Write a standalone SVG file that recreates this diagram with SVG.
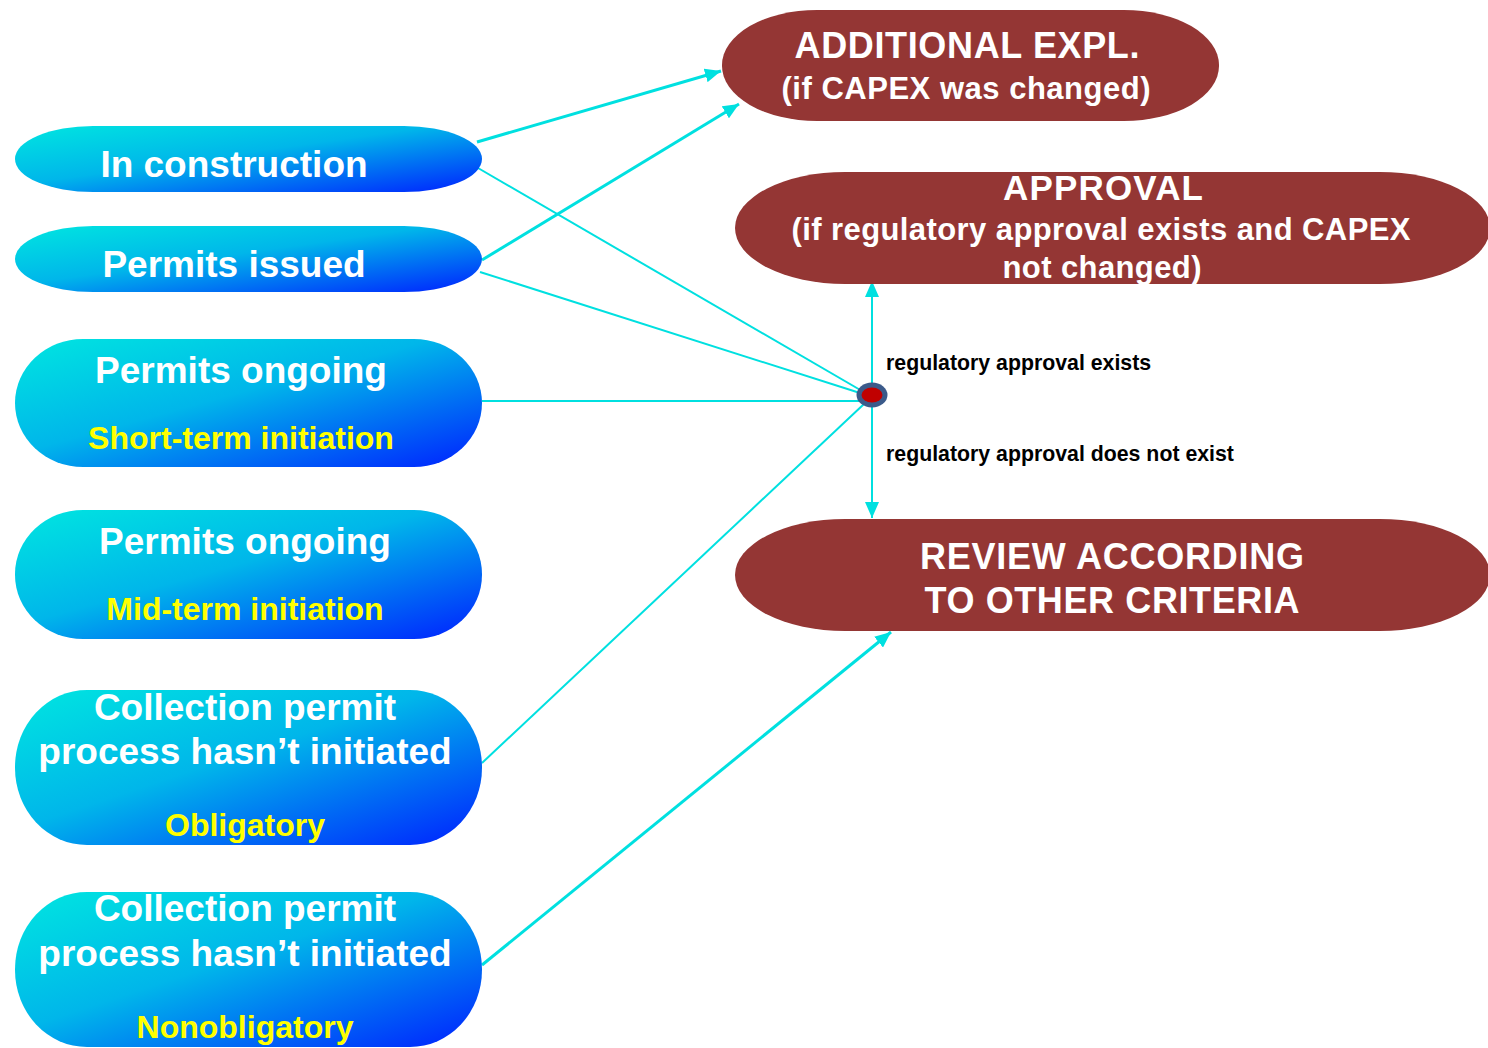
<svg xmlns="http://www.w3.org/2000/svg" width="1488" height="1048" viewBox="0 0 1488 1048">
<style>
.blue{fill:url(#bg)}
.red{fill:#943634}
.wt{fill:#ffffff;font-family:"Liberation Sans",Arial,sans-serif;font-weight:bold;text-anchor:middle}
.yt{fill:#ffff00;font-family:"Liberation Sans",Arial,sans-serif;font-weight:bold;text-anchor:middle}
.lbl{fill:#000000;font-family:"Liberation Sans",Arial,sans-serif;font-weight:bold;font-size:21.3px}
.c{stroke:#00E0E0;fill:none}
.thin{stroke-width:2}
.thick{stroke-width:3}
</style>
<defs>
<linearGradient id="bg" x1="0" y1="0" x2="1" y2="1">
<stop offset="0" stop-color="#00E6E0"/>
<stop offset="0.45" stop-color="#00B6EA"/>
<stop offset="1" stop-color="#0020FF"/>
</linearGradient>
<marker id="ah" markerUnits="userSpaceOnUse" markerWidth="18" markerHeight="14" refX="16" refY="7" orient="auto">
<path d="M0,0 L16,7 L0,14 z" fill="#00E0E0"/>
</marker>
</defs>
<rect width="1488" height="1048" fill="#ffffff"/>

<g id="connectors">
<line class="c thick" x1="477" y1="142" x2="721" y2="71" marker-end="url(#ah)"/>
<line class="c thick" x1="482" y1="260" x2="739" y2="104" marker-end="url(#ah)"/>
<line class="c thin" x1="478" y1="168" x2="862" y2="391"/>
<line class="c thin" x1="480" y1="272" x2="860" y2="393"/>
<line class="c thin" x1="482" y1="401" x2="860" y2="401"/>
<line class="c thin" x1="482" y1="763" x2="864" y2="404"/>
<line class="c thick" x1="482" y1="965" x2="891" y2="632" marker-end="url(#ah)"/>
<line class="c thin" x1="872" y1="384" x2="872" y2="281" marker-end="url(#ah)"/>
<line class="c thin" x1="872" y1="406" x2="872" y2="518" marker-end="url(#ah)"/>
<text class="lbl" x="886" y="370">regulatory approval exists</text>
<text class="lbl" x="886" y="461">regulatory approval does not exist</text>
</g>

<g id="junction">
<ellipse cx="872" cy="395" rx="15.5" ry="12.5" fill="#3B5A8A"/>
<ellipse cx="872" cy="395" rx="10.5" ry="7.5" fill="#C00000"/>
</g>

<g id="in-construction">
<rect class="blue" x="15" y="126" width="467" height="66" rx="78" ry="33"/>
<text class="wt" x="234" y="177" font-size="37">In construction</text>
</g>

<g id="permits-issued">
<rect class="blue" x="15" y="226" width="467" height="66" rx="78" ry="33"/>
<text class="wt" x="234" y="277" font-size="37">Permits issued</text>
</g>

<g id="permits-ongoing-short">
<rect class="blue" x="15" y="339" width="467" height="128" rx="68" ry="64"/>
<text class="wt" x="241" y="383" font-size="37">Permits ongoing</text>
<text class="yt" x="241" y="449" font-size="32">Short-term initiation</text>
</g>

<g id="permits-ongoing-mid">
<rect class="blue" x="15" y="510" width="467" height="129" rx="68" ry="64"/>
<text class="wt" x="245" y="554" font-size="37">Permits ongoing</text>
<text class="yt" x="245" y="620" font-size="32">Mid-term initiation</text>
</g>

<g id="collection-obligatory">
<rect class="blue" x="15" y="690" width="467" height="155" rx="72" ry="77"/>
<text class="wt" x="245" y="720" font-size="37">Collection permit</text>
<text class="wt" x="245" y="764" font-size="37">process hasn’t initiated</text>
<text class="yt" x="245" y="836" font-size="32">Obligatory</text>
</g>

<g id="collection-nonobligatory">
<rect class="blue" x="15" y="892" width="467" height="155" rx="72" ry="77"/>
<text class="wt" x="245" y="921" font-size="37">Collection permit</text>
<text class="wt" x="245" y="966" font-size="37">process hasn’t initiated</text>
<text class="yt" x="245" y="1038" font-size="32">Nonobligatory</text>
</g>

<g id="additional-expl">
<rect class="red" x="722" y="10" width="497" height="111" rx="95" ry="55"/>
<text class="wt" x="967" y="58" font-size="36" textLength="345">ADDITIONAL EXPL.</text>
<text class="wt" x="966" y="99" font-size="31" textLength="369">(if CAPEX was changed)</text>
</g>

<g id="approval">
<rect class="red" x="735" y="172" width="755" height="112" rx="110" ry="56"/>
<text class="wt" x="1103" y="200" font-size="35" textLength="200">APPROVAL</text>
<text class="wt" x="1101" y="240" font-size="31" textLength="619">(if regulatory approval exists and CAPEX</text>
<text class="wt" x="1102" y="278" font-size="31" textLength="199">not changed)</text>
</g>

<g id="review">
<rect class="red" x="735" y="519" width="755" height="112" rx="110" ry="56"/>
<text class="wt" x="1112" y="569" font-size="36" textLength="384">REVIEW ACCORDING</text>
<text class="wt" x="1112" y="613" font-size="36" textLength="375">TO OTHER CRITERIA</text>
</g>
</svg>
